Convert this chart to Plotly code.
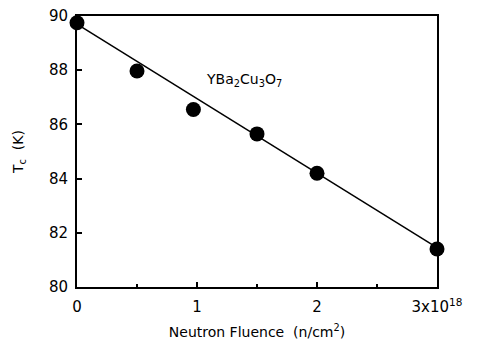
import plotly.graph_objects as go

fluence = [0.0, 0.5, 0.97, 1.5, 2.0, 3.0]
tc = [89.75, 87.97, 86.55, 85.65, 84.2, 81.4]
fit_x = [0.0, 3.0]
fit_y = [89.7, 81.45]
xtick_vals = [0, 1, 2, 3]
xtick_text = ["0", "1", "2", "3x10<sup>18</sup>"]
ytick_vals = [80, 82, 84, 86, 88, 90]

fam = "DejaVu Sans, Liberation Sans, sans-serif"
font = dict(family=fam, size=15, color="black")

fig = go.Figure()
fig.add_trace(go.Scatter(x=fit_x, y=fit_y, mode="lines",
                         line=dict(color="black", width=1.5), showlegend=False, cliponaxis=False))
fig.add_trace(go.Scatter(x=fluence, y=tc, mode="markers",
                         marker=dict(color="black", size=15), showlegend=False, cliponaxis=False))

fig.add_annotation(x=1.06, y=87.65, xanchor="left", yanchor="middle", showarrow=False,
                   text="YBa<sub>2</sub>Cu<sub>3</sub>O<sub>7</sub>",
                   font=dict(size=14, color="black", family=fam))

fig.update_layout(
    width=491, height=340,
    margin=dict(l=77, r=54, t=16, b=53, autoexpand=False),
    plot_bgcolor="white", paper_bgcolor="white",
    font=font,
    xaxis=dict(range=[0, 3], tickvals=xtick_vals, ticktext=xtick_text,
               automargin=False,
               ticks="inside", ticklen=5, tickwidth=1.5, tickcolor="black",
               ticklabelstandoff=5,
               showline=True, linewidth=2, linecolor="black", mirror=True,
               showgrid=False, zeroline=False,
               title=dict(text="Neutron Fluence  (n/cm<sup>2</sup>)", font=dict(size=14, family=fam), standoff=14),
               minor=dict(tickvals=[0.5, 1.5, 2.5], ticks="inside", ticklen=3, tickcolor="black")),
    yaxis=dict(range=[80, 90], tickvals=ytick_vals,
               automargin=False,
               ticks="inside", ticklen=5, tickwidth=1.5, tickcolor="black",
               ticklabelstandoff=4,
               showline=True, linewidth=2, linecolor="black", mirror=True,
               showgrid=False, zeroline=False,
               title=dict(text="T<sub>c</sub>  (K)", font=dict(size=14, family=fam), standoff=22)),
)

fig.write_html("out.html")
